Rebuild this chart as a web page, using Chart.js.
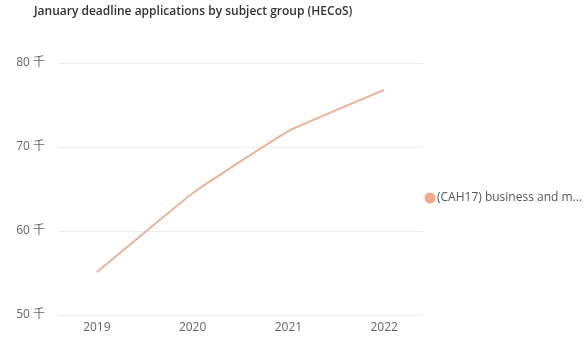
<!DOCTYPE html>
<html>
<head>
<meta charset="utf-8">
<script src="https://cdn.jsdelivr.net/npm/chart.js@4"></script>
<style>
  html, body { margin: 0; padding: 0; background: #fff; }
  #wrap { width: 585px; height: 341px; }
</style>
</head>
<body>
<div id="wrap"><canvas id="applicationsChart"></canvas></div>
<script>
const years = [2019, 2020, 2021, 2022];
const applications = [55100, 64500, 71900, 76800];
const yTicks = [50000, 60000, 70000, 80000];
const seriesName = "(CAH17) business and management";
const chartTitle = "January deadline applications by subject group (HECoS)";

const lineColor = "#EFB193";
const fontFamily = "'Open Sans', 'Noto Sans CJK SC', sans-serif";

// title and legend entry drawn by hand
const decorations = {
  id: "decorations",
  afterDraw(chart) {
    const c = chart.ctx;
    c.save();
    c.fillStyle = "#333";
    c.font = "600 12px " + fontFamily;
    c.textBaseline = "middle";
    c.textAlign = "left";
    c.fillText(chartTitle, 34, 12);

    const dotX = 430, dotY = 198;
    c.fillStyle = "#F3A98A";
    c.beginPath();
    c.arc(dotX, dotY, 5.5, 0, Math.PI * 2);
    c.fill();

    c.fillStyle = "#555";
    c.font = "12px " + fontFamily;
    const textX = dotX + 7;
    const maxW = chart.width - textX;
    let text = seriesName;
    if (c.measureText(text).width > maxW) {
      while (text.length && c.measureText(text + "...").width > maxW) text = text.slice(0, -1);
      text = text + "...";
    }
    c.fillText(text, textX, dotY);
    c.restore();
  }
};

new Chart(document.getElementById("applicationsChart"), {
  type: "line",
  data: {
    datasets: [{
      label: seriesName,
      data: years.map((y, i) => ({ x: y, y: applications[i] })),
      borderColor: lineColor,
      borderWidth: 2,
      pointRadius: 0,
      tension: 0.1,
      fill: false
    }]
  },
  options: {
    responsive: true,
    maintainAspectRatio: false,
    animation: false,
    layout: { padding: { top: 63, left: 16, right: 162, bottom: 7 } },
    plugins: {
      legend: { display: false },
      title: { display: false },
      tooltip: { enabled: false }
    },
    scales: {
      x: {
        type: "linear",
        min: 2018.594,
        max: 2022.406,
        grid: { display: false, drawTicks: false },
        border: { display: false },
        ticks: {
          stepSize: 1,
          includeBounds: false,
          padding: 5,
          color: "#666",
          font: { family: fontFamily, size: 12 },
          callback: v => String(v)
        },
        afterBuildTicks: axis => { axis.ticks = years.map(v => ({ value: v })); },
        afterFit: axis => { axis.height = 19; }
      },
      y: {
        min: yTicks[0],
        max: yTicks[yTicks.length - 1],
        grid: { color: "#ececec", drawTicks: false },
        border: { display: false },
        ticks: {
          padding: 13,
          color: "#666",
          font: { family: fontFamily, size: 12 },
          callback: v => (v / 1000) + " 千"
        },
        afterBuildTicks: axis => { axis.ticks = yTicks.map(v => ({ value: v })); },
        afterFit: axis => { axis.width = 42; }
      }
    }
  },
  plugins: [decorations]
});
</script>
</body>
</html>
